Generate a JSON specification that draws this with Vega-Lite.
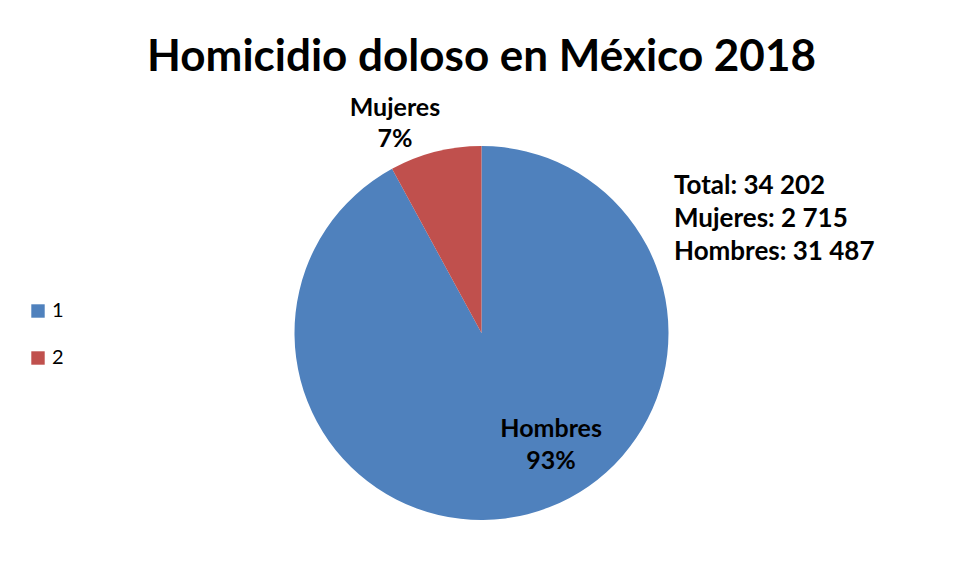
{
  "$schema": "https://vega.github.io/schema/vega-lite/v6.json",
  "width": 963,
  "height": 466,
  "autosize": {"type": "none"},
  "padding": {"left": 0, "top": 100, "right": 0, "bottom": 16},
  "background": "white",
  "title": {"text": "Homicidio doloso en México 2018", "font": "Lato", "fontSize": 44, "fontWeight": "bold", "color": "#000000", "anchor": "middle", "offset": 16},
  "datasets": {
    "sectores": [
      {"sexo": "Hombres", "serie": "1", "victimas": 31487, "etiqueta": "Hombres\n93%"},
      {"sexo": "Mujeres", "serie": "2", "victimas": 2715, "etiqueta": "Mujeres\n7%"}
    ],
    "resumen": [
      {"orden": 1, "linea": "Total: 34 202"},
      {"orden": 2, "linea": "Mujeres: 2 715"},
      {"orden": 3, "linea": "Hombres: 31 487"}
    ]
  },
  "layer": [
    {
      "data": {"name": "sectores"},
      "mark": {"type": "arc", "radius": 187},
      "encoding": {
        "theta": {"field": "victimas", "type": "quantitative", "stack": true},
        "order": {"field": "serie", "type": "ordinal"},
        "color": {
          "field": "serie", "type": "nominal",
          "scale": {"domain": ["1", "2"], "range": ["#4F81BD", "#C0504D"]},
          "legend": {"orient": "none", "legendX": 28, "legendY": 201, "title": null, "symbolType": "square", "symbolSize": 180, "symbolStrokeWidth": 0, "labelFont": "Lato", "labelFontSize": 20, "labelColor": "#000000", "labelOffset": 4, "rowPadding": 27, "padding": 0}
        }
      }
    },
    {
      "data": {"name": "sectores"},
      "mark": {"type": "text", "radius": 120, "dx": 40, "dy": -20, "font": "Lato", "fontSize": 25, "fontWeight": "bold", "color": "#000000", "lineBreak": "\n", "lineHeight": 32, "align": "center", "baseline": "middle"},
      "encoding": {
        "theta": {"field": "victimas", "type": "quantitative", "stack": true},
        "order": {"field": "serie", "type": "ordinal"},
        "detail": {"field": "serie", "type": "nominal"},
        "text": {"condition": {"test": "datum.sexo === 'Hombres'", "field": "etiqueta", "type": "nominal"}, "value": ""}
      }
    },
    {
      "data": {"name": "sectores"},
      "mark": {"type": "text", "radius": 217, "dx": -33, "dy": -15, "font": "Lato", "fontSize": 25, "fontWeight": "bold", "color": "#000000", "lineBreak": "\n", "lineHeight": 31, "align": "center", "baseline": "middle"},
      "encoding": {
        "theta": {"field": "victimas", "type": "quantitative", "stack": true},
        "order": {"field": "serie", "type": "ordinal"},
        "detail": {"field": "serie", "type": "nominal"},
        "text": {"condition": {"test": "datum.sexo === 'Mujeres'", "field": "etiqueta", "type": "nominal"}, "value": ""}
      }
    },
    {
      "data": {"name": "resumen"},
      "mark": {"type": "point", "opacity": 0},
      "encoding": {
        "shape": {
          "field": "linea", "type": "nominal", "sort": {"field": "orden"},
          "legend": {"orient": "none", "legendX": 648, "legendY": 73, "title": null, "symbolSize": 0, "symbolOpacity": 0, "symbolOffset": 0, "labelOffset": 0, "labelFont": "Lato", "labelFontSize": 26, "labelFontWeight": "bold", "labelColor": "#000000", "labelLimit": 400, "rowPadding": 7, "padding": 0}
        }
      }
    }
  ],
  "config": {"view": {"stroke": null}}
}
